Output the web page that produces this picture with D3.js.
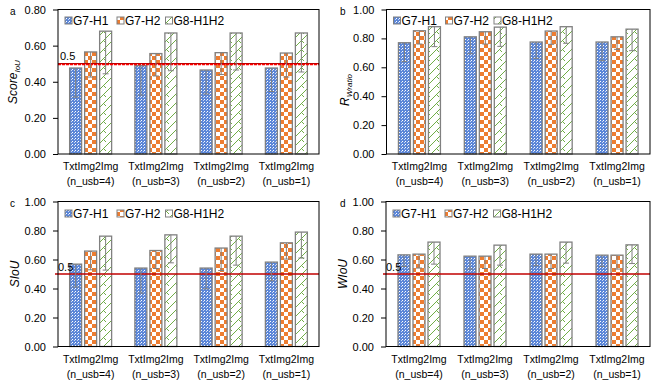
<!DOCTYPE html>
<html><head><meta charset="utf-8">
<script src="https://cdn.jsdelivr.net/npm/d3@7"></script>
<style>
body{margin:0;background:#fff;}
svg{font-family:"Liberation Sans",Arial,sans-serif;}
</style></head>
<body><svg id="c" width="654" height="380"></svg>
<script>
const catLine1 = ["TxtImg2Img","TxtImg2Img","TxtImg2Img","TxtImg2Img"];
const catLine2 = ["(n_usb=4)","(n_usb=3)","(n_usb=2)","(n_usb=1)"];
const series = ["G7-H1","G7-H2","G8-H1H2"];

// panel a: Score_IoU
const a_vals = [[0.476,0.489,0.465,0.476],[0.565,0.556,0.561,0.559],[0.680,0.670,0.670,0.670]];
const a_err  = [[0.161,0.163,0.133,0.130],[0.139,0.124,0.121,0.133],[0.236,0.209,0.205,0.216]];
// panel b: R_Wratio
const b_vals = [[0.770,0.811,0.775,0.775],[0.853,0.846,0.851,0.811],[0.881,0.878,0.881,0.864]];
const b_err  = [[0.131,0.117,0.113,0.129],[0.092,0.085,0.092,0.087],[0.138,0.133,0.115,0.149]];
// panel c: SIoU
const c_vals = [[0.568,0.541,0.541,0.582],[0.658,0.662,0.679,0.715],[0.761,0.770,0.761,0.789]];
const c_err  = [[0.158,0.173,0.143,0.129],[0.129,0.124,0.155,0.112],[0.234,0.193,0.200,0.179]];
// panel d: WIoU
const d_vals = [[0.632,0.623,0.637,0.630],[0.637,0.623,0.637,0.630],[0.720,0.699,0.720,0.701]];
const d_err  = [[0.080,0.089,0.080,0.078],[0.096,0.085,0.099,0.096],[0.152,0.138,0.145,0.129]];

const yTicksA = [0,0.2,0.4,0.6,0.8];
const yTicks1 = [0,0.2,0.4,0.6,0.8,1.0];
const threshold = 0.5;

const svg = d3.select("#c");
const defs = svg.append("defs");
const pB = defs.append("pattern").attr("id","pBlue").attr("patternUnits","userSpaceOnUse").attr("width",3).attr("height",3);
pB.append("rect").attr("width",3).attr("height",3).attr("fill","#5b86d8");
pB.append("rect").attr("width",1).attr("height",1).attr("fill","#ffffff");
pB.append("rect").attr("x",2).attr("y",1).attr("width",1).attr("height",1).attr("fill","#c9d7f2");
const pO = defs.append("pattern").attr("id","pOrange").attr("patternUnits","userSpaceOnUse").attr("width",8).attr("height",8);
pO.append("rect").attr("width",8).attr("height",8).attr("fill","#ffffff");
pO.append("rect").attr("width",4).attr("height",4).attr("fill","#ed7d31");
pO.append("rect").attr("x",4).attr("y",4).attr("width",4).attr("height",4).attr("fill","#ed7d31");
const pG = defs.append("pattern").attr("id","pGreen").attr("patternUnits","userSpaceOnUse").attr("width",9).attr("height",9);
pG.append("rect").attr("width",9).attr("height",9).attr("fill","#ffffff");
pG.append("path").attr("d","M0,9 L9,0 M-1,1 L1,-1 M8,10 L10,8 M4.5,4.5 L7,7").attr("stroke","#70ad47").attr("stroke-width",1).attr("fill","none");
const fills = ["url(#pBlue)","url(#pOrange)","url(#pGreen)"];

const panels = [
  {letter:"a", vals:a_vals, err:a_err, ymax:0.8, ticks:yTicksA, x0:58, x1:319, y0:9.5, y1:154, lx:10, ly:15, thr:"dash", legY:21},
  {letter:"b", vals:b_vals, err:b_err, ymax:1.0, ticks:yTicks1, x0:386.5, x1:650, y0:9.5, y1:154, lx:340, ly:15, thr:null, legY:21},
  {letter:"c", vals:c_vals, err:c_err, ymax:1.0, ticks:yTicks1, x0:58, x1:319, y0:201.5, y1:346.5, lx:10, ly:207, thr:"solid", legY:214},
  {letter:"d", vals:d_vals, err:d_err, ymax:1.0, ticks:yTicks1, x0:386, x1:650, y0:201.5, y1:346.5, lx:340, ly:207, thr:"solid", legY:214}
];

panels.forEach(p => {
  const g = svg.append("g");
  const x = d3.scaleBand().domain(d3.range(4)).range([p.x0,p.x1]).paddingInner(0).paddingOuter(0);
  const xs = d3.scaleBand().domain(series).range([-21,21]).paddingInner(0.2);
  const y = d3.scaleLinear().domain([0,p.ymax]).range([p.y1,p.y0]);

  const ax = g.append("g").attr("transform",`translate(${p.x0},0)`)
    .call(d3.axisLeft(y).tickValues(p.ticks).tickFormat(d3.format(".2f")).tickSize(5).tickPadding(7));
  ax.select(".domain").remove();
  ax.selectAll("line").attr("stroke","#000");
  ax.selectAll("text").attr("font-size",11).attr("fill","#000");

  series.forEach((s,si) => {
    p.vals[si].forEach((v,ci) => {
      const cx = x(ci) + x.bandwidth()/2;
      g.append("rect").attr("x",cx+xs(s)).attr("y",y(v)).attr("width",xs.bandwidth()).attr("height",y(0)-y(v))
        .attr("fill",fills[si]).attr("stroke","#808080").attr("stroke-width",1.3);
    });
  });
  if (p.thr === "dash") {
    g.append("line").attr("x1",p.x0).attr("x2",p.x1).attr("y1",y(threshold)).attr("y2",y(threshold))
      .attr("stroke","#c00000").attr("stroke-width",1.2);
    g.append("line").attr("x1",p.x0).attr("x2",p.x1).attr("y1",y(threshold)+1).attr("y2",y(threshold)+1)
      .attr("stroke","#ff0000").attr("stroke-width",1.2).attr("stroke-dasharray","3,1");
    g.append("text").attr("x",p.x0+2).attr("y",y(threshold)-4).attr("font-size",11).text("0.5");
  } else if (p.thr === "solid") {
    g.append("line").attr("x1",p.x0-3).attr("x2",p.x1).attr("y1",y(threshold)).attr("y2",y(threshold))
      .attr("stroke","#c00000").attr("stroke-width",1.3);
    g.append("text").attr("x",p.x0).attr("y",y(threshold)-3).attr("font-size",11).text("0.5");
  }
  series.forEach((s,si) => {
    p.vals[si].forEach((v,ci) => {
      const cx = x(ci) + x.bandwidth()/2 + xs(s) + xs.bandwidth()/2;
      const lo = y(v - p.err[si][ci]);
      g.append("line").attr("x1",cx).attr("x2",cx).attr("y1",y(v)).attr("y2",lo).attr("stroke","#808080").attr("stroke-width",1);
      g.append("line").attr("x1",cx-3).attr("x2",cx+3).attr("y1",lo).attr("y2",lo).attr("stroke","#808080").attr("stroke-width",1);
    });
  });
  g.append("rect").attr("x",p.x0).attr("y",p.y0).attr("width",p.x1-p.x0).attr("height",p.y1-p.y0)
    .attr("fill","none").attr("stroke","#000").attr("stroke-width",1);

  d3.range(4).forEach(ci => {
    const cx = x(ci) + x.bandwidth()/2;
    g.append("text").attr("x",cx).attr("y",p.y1+16).attr("text-anchor","middle").attr("font-size",10.5).text(catLine1[ci]);
    g.append("text").attr("x",cx).attr("y",p.y1+31).attr("text-anchor","middle").attr("font-size",10.5).text(catLine2[ci]);
  });

  const legX = [p.x0+7, p.x0+59, p.x0+107.5];
  series.forEach((s,si) => {
    g.append("rect").attr("x",legX[si]).attr("y",p.legY-4).attr("width",7).attr("height",7)
      .attr("fill",fills[si]).attr("stroke","#808080").attr("stroke-width",1);
    g.append("text").attr("x",legX[si]+8).attr("y",p.legY+4).attr("font-size",12).text(s);
  });

  g.append("text").attr("x",p.lx).attr("y",p.ly).attr("font-size",10).text(p.letter);
});

function ylab(xp, yp, main, sub){
  const t = svg.append("text").attr("transform",`translate(${xp},${yp}) rotate(-90)`).attr("text-anchor","middle")
    .attr("font-size",12).attr("font-style","italic");
  t.append("tspan").text(main);
  if (sub) t.append("tspan").attr("font-size",8).attr("dy",3).text(sub);
}
ylab(17, 82, "Score", "IoU");
ylab(349, 90, "R", "Wratio");
ylab(19, 274, "SIoU", null);
ylab(347, 274, "WIoU", null);
</script></body></html>
